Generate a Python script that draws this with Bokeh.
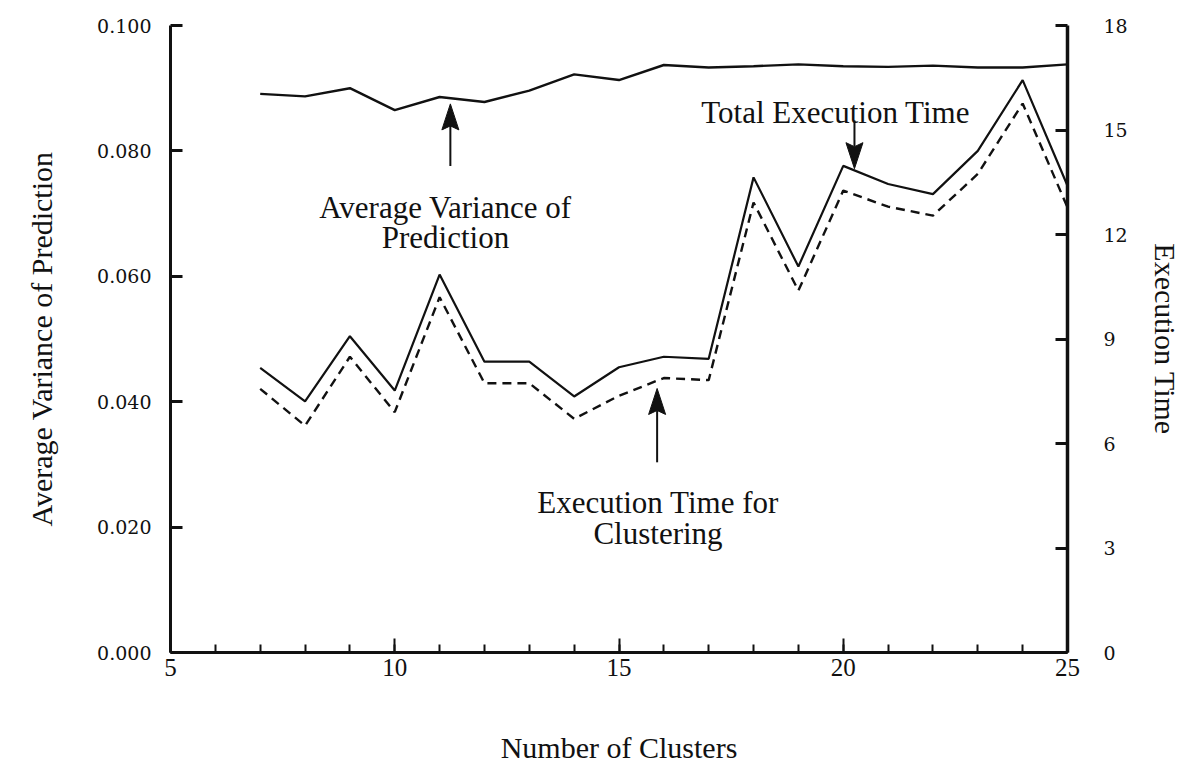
from bokeh.plotting import figure
from bokeh.models import Range1d, LinearAxis, FixedTicker, Label, NumeralTickFormatter
from bokeh.embed import file_html
from bokeh.resources import INLINE

# Number of clusters on the x axis
clusters = list(range(7, 26))
# Average variance of prediction (left axis)
avg_variance = [0.0891, 0.0887, 0.0900, 0.0865, 0.0886, 0.0878, 0.0896, 0.0922,
                0.0913, 0.0937, 0.0933, 0.0935, 0.0938, 0.0935, 0.0934, 0.0936,
                0.0933, 0.0933, 0.0938]
# Total execution time (right axis)
total_time = [8.17, 7.21, 9.08, 7.52, 10.85, 8.35, 8.35, 7.35,
              8.19, 8.49, 8.43, 13.64, 11.08, 13.97, 13.45, 13.16,
              14.40, 16.43, 13.40]
# Execution time spent on clustering (right axis)
clustering_time = [7.57, 6.51, 8.49, 6.90, 10.20, 7.73, 7.73, 6.71,
                   7.37, 7.88, 7.82, 12.92, 10.39, 13.26, 12.80, 12.54,
                   13.74, 15.76, 12.78]

x_ticks = [5, 10, 15, 20, 25]
x_minor = list(range(5, 26))
var_ticks = [0.0, 0.02, 0.04, 0.06, 0.08, 0.10]
time_ticks = [0, 3, 6, 9, 12, 15, 18]

W, H = 1185, 774
BL, BR, BT, BB = 170, 118, 25, 122
SERIF = "Liberation Serif"
NUMFONT = "DejaVu Serif"
INK = "#111111"

p = figure(width=W, height=H, x_range=Range1d(5, 25), y_range=Range1d(0, 0.1),
           output_backend="svg", toolbar_location=None,
           min_border_left=BL, min_border_right=BR, min_border_top=BT, min_border_bottom=BB,
           x_axis_location="below", y_axis_location="left")
p.extra_y_ranges = {"time": Range1d(0, 18)}
p.grid.visible = False
p.outline_line_color = None
p.background_fill_color = "white"
p.border_fill_color = "white"

# bottom axis
xa = p.xaxis[0]
xa.ticker = FixedTicker(ticks=x_ticks, minor_ticks=x_minor)
xa.axis_line_width = 3
xa.axis_line_color = INK
xa.major_tick_in = 14
xa.major_tick_out = 0
xa.minor_tick_in = 8
xa.minor_tick_out = 0
xa.major_tick_line_width = 2
xa.minor_tick_line_width = 2
xa.major_tick_line_color = INK
xa.minor_tick_line_color = INK
xa.major_label_text_font = SERIF
xa.major_label_text_font_size = "25px"
xa.major_label_text_color = INK
xa.major_label_standoff = 6
xa.axis_label = "Number of Clusters"
xa.axis_label_text_font = SERIF
xa.axis_label_text_font_size = "30px"
xa.axis_label_text_font_style = "normal"
xa.axis_label_text_color = INK
xa.axis_label_standoff = 52

# left axis
ya = p.yaxis[0]
ya.ticker = FixedTicker(ticks=var_ticks)
ya.formatter = NumeralTickFormatter(format="0.000")
ya.axis_line_width = 3
ya.axis_line_color = INK
ya.major_tick_in = 12
ya.major_tick_out = 0
ya.minor_tick_in = 0
ya.minor_tick_out = 0
ya.major_tick_line_width = 3
ya.major_tick_line_color = INK
ya.major_label_text_font = NUMFONT
ya.major_label_text_font_size = "19px"
ya.major_label_text_color = INK
ya.major_label_standoff = 19
ya.axis_label = "Average Variance of Prediction"
ya.axis_label_text_font = SERIF
ya.axis_label_text_font_size = "30px"
ya.axis_label_text_font_style = "normal"
ya.axis_label_text_color = INK
ya.axis_label_standoff = 36

# right axis (execution time)
ra = LinearAxis(y_range_name="time", ticker=FixedTicker(ticks=time_ticks))
ra.axis_line_width = 3.5
ra.axis_line_color = INK
ra.major_tick_in = 12
ra.major_tick_out = 0
ra.minor_tick_in = 0
ra.minor_tick_out = 0
ra.major_tick_line_width = 3
ra.major_tick_line_color = INK
ra.major_label_text_font = NUMFONT
ra.major_label_text_font_size = "19px"
ra.major_label_text_color = INK
ra.major_label_standoff = 36
ra.axis_label = "Execution Time"
ra.axis_label_text_font = SERIF
ra.axis_label_text_font_size = "30px"
ra.axis_label_text_font_style = "normal"
ra.axis_label_text_color = INK
ra.axis_label_standoff = 18
p.add_layout(ra, "right")

# data lines
p.line(clusters, avg_variance, line_color=INK, line_width=2.4)
p.line(clusters, total_time, y_range_name="time", line_color=INK, line_width=2.2)
p.line(clusters, clustering_time, y_range_name="time", line_color=INK, line_width=2.4,
       line_dash="9 6")

# pixel scales of the frame, used to size arrowheads
frame_w = W - BL - BR
frame_h = H - BT - BB
px_x = frame_w / 20.0
px_var = frame_h / 0.1
px_time = frame_h / 18.0


def arrow(x, y_tail, y_tip, per_px, range_name="default", head_len=26, head_w=17, notch=4):
    d = 1 if y_tip > y_tail else -1
    base = y_tip - d * head_len / per_px
    notch_y = y_tip - d * (head_len - notch) / per_px
    hw = head_w / 2.0 / px_x
    p.segment(x0=[x], y0=[y_tail], x1=[x], y1=[notch_y], y_range_name=range_name,
              line_color=INK, line_width=2)
    p.patch([x, x + hw, x, x - hw], [y_tip, base, notch_y, base], y_range_name=range_name,
            fill_color=INK, line_color=INK, line_width=1)


# annotation arrows
arrow(11.24, 0.0776, 0.0875, px_var)
arrow(20.25, 15.27, 13.89, px_time, "time")
arrow(15.85, 5.46, 7.58, px_time, "time")


def note(x, y, text, range_name="default"):
    p.add_layout(Label(x=x, y=y, y_range_name=range_name, text=text, text_font=SERIF,
                       text_font_size="31px", text_color=INK, text_align="center",
                       text_baseline="alphabetic"))


note(11.13, 0.0710, "Average Variance of")
note(11.13, 0.0662, "Prediction")
note(19.83, 15.50, "Total Execution Time", "time")
note(15.87, 4.31, "Execution Time for", "time")
note(15.87, 3.41, "Clustering", "time")

open("out.html", "w").write(file_html(p, INLINE))
